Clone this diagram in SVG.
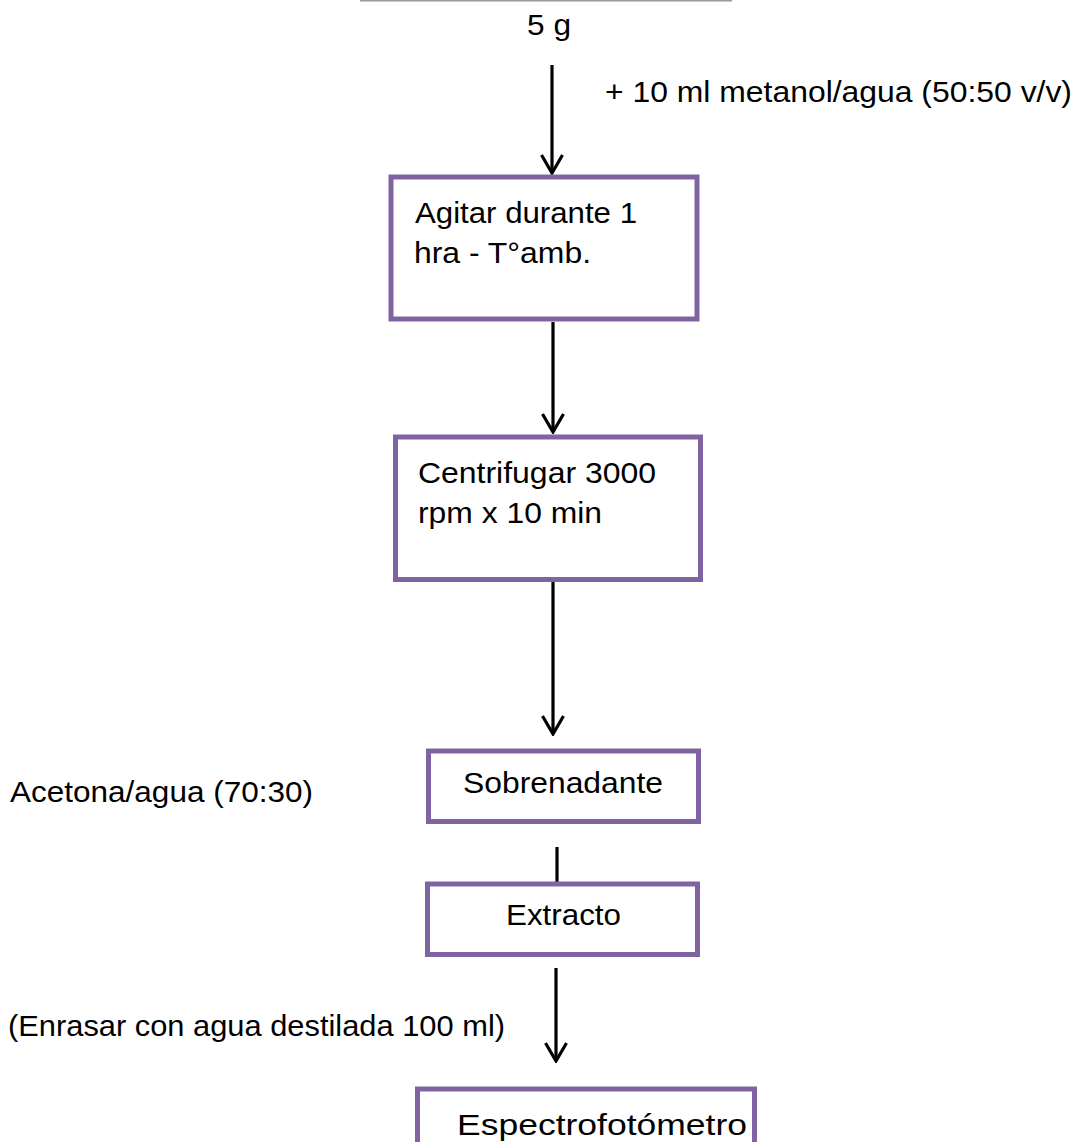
<svg xmlns="http://www.w3.org/2000/svg" width="1077" height="1142" viewBox="0 0 1077 1142">
<defs>
<style>
.t{font-family:"Liberation Sans",Arial,sans-serif;font-size:30px;fill:#000}
.box{fill:#fff;stroke:#8064A2;stroke-width:5}
.c{stroke:#000;stroke-width:3.2;fill:none}
</style>
<marker id="ah" viewBox="0 0 22 24" refX="20" refY="12" markerWidth="22" markerHeight="24" markerUnits="userSpaceOnUse" orient="auto">
<path d="M2,1.5 L20,12 L2,22.5" fill="none" stroke="#000" stroke-width="3.2"/>
</marker>
</defs>
<rect width="1077" height="1142" fill="#fff"/>
<line x1="360" y1="0.5" x2="732" y2="0.5" stroke="#999" stroke-width="2"/>
<g id="connectors">
<line class="c" x1="552" y1="65" x2="552" y2="173" marker-end="url(#ah)"/>
<line class="c" x1="553" y1="322" x2="553" y2="432" marker-end="url(#ah)"/>
<line class="c" x1="553" y1="582" x2="553" y2="734" marker-end="url(#ah)"/>
<line class="c" x1="557" y1="847" x2="557" y2="882"/>
<line class="c" x1="556" y1="968" x2="556" y2="1061" marker-end="url(#ah)"/>
</g>
<g id="start">
<text class="t" x="527" y="35" textLength="44" lengthAdjust="spacingAndGlyphs">5 g</text>
</g>
<g id="label-metanol">
<text class="t" x="605" y="102" textLength="467" lengthAdjust="spacingAndGlyphs">+ 10 ml metanol/agua (50:50 v/v)</text>
</g>
<g id="node-agitar">
<rect class="box" x="391" y="177" width="306" height="142"/>
<text class="t" x="415" y="223" textLength="222" lengthAdjust="spacingAndGlyphs">Agitar durante 1</text>
<text class="t" x="414" y="263" textLength="177" lengthAdjust="spacingAndGlyphs">hra - T°amb.</text>
</g>
<g id="node-centrifugar">
<rect class="box" x="395.5" y="437" width="305" height="142.5"/>
<text class="t" x="418" y="483" textLength="238" lengthAdjust="spacingAndGlyphs">Centrifugar 3000</text>
<text class="t" x="418" y="523" textLength="184" lengthAdjust="spacingAndGlyphs">rpm x 10 min</text>
</g>
<g id="label-acetona">
<text class="t" x="10" y="802" textLength="303" lengthAdjust="spacingAndGlyphs">Acetona/agua (70:30)</text>
</g>
<g id="node-sobrenadante">
<rect class="box" x="428.5" y="751" width="270" height="70.5"/>
<text class="t" x="463" y="793" textLength="200" lengthAdjust="spacingAndGlyphs">Sobrenadante</text>
</g>
<g id="node-extracto">
<rect class="box" x="427.5" y="884" width="270" height="70.5"/>
<text class="t" x="506" y="925" textLength="115" lengthAdjust="spacingAndGlyphs">Extracto</text>
</g>
<g id="label-enrasar">
<text class="t" x="8" y="1036" textLength="497" lengthAdjust="spacingAndGlyphs">(Enrasar con agua destilada 100 ml)</text>
</g>
<g id="node-espectro">
<rect class="box" x="417.5" y="1089" width="337" height="80"/>
<text class="t" x="457" y="1135" textLength="290" lengthAdjust="spacingAndGlyphs">Espectrofotómetro</text>
</g>
</svg>
